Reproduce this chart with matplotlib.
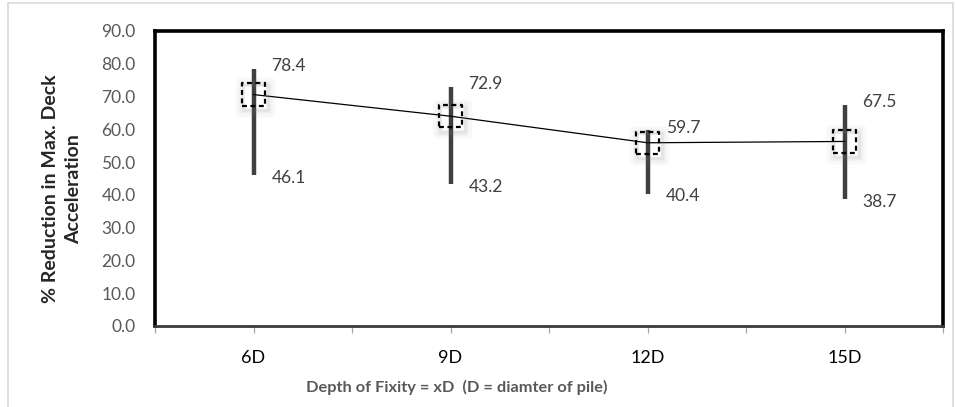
import matplotlib
matplotlib.use("Agg")
import matplotlib.pyplot as plt
import matplotlib.transforms as mtransforms
from matplotlib.patches import Rectangle

plt.rcParams['font.family'] = ['Lato', 'DejaVu Sans']

# depth of fixity cases and reduction in max. deck acceleration (%)
depths = ['6D', '9D', '12D', '15D']
high = [78.4, 72.9, 59.7, 67.5]
low = [46.1, 43.2, 40.4, 38.7]
mean = [70.6, 64.0, 55.9, 56.3]

pos = [1, 3, 5, 7]

fig = plt.figure(figsize=(9.55, 4.07), dpi=100)
ax = fig.add_axes([155 / 955, 1 - 326 / 407, 788 / 955, 295 / 407])

# chart border
fig.patches.append(Rectangle((8 / 955, -0.01), 945 / 955, 1 - 3 / 407 + 0.01,
                             transform=fig.transFigure, fill=False,
                             edgecolor='#d9d9d9', linewidth=1.2))

# high-low bars
ax.vlines(pos, low, high, colors='#404040', linewidth=3.2, zorder=2)

# mean line
ax.plot(pos, mean, color='black', linewidth=0.9, zorder=3)

# dashed square markers with a soft shadow
shadow = mtransforms.offset_copy(ax.transData, fig=fig, x=2, y=-3, units='dots')
for k, a in [(6, 0.05), (4, 0.07), (2, 0.09)]:
    ax.scatter(pos, mean, marker='s', s=240 + k * 40, facecolors='none',
               edgecolors='#7f7f7f', linewidths=k, alpha=a,
               transform=shadow, zorder=3)
ax.scatter(pos, mean, marker='s', s=260, facecolors='none', edgecolors='black',
           linewidths=1.6, linestyles=(0, (2.2, 1.6)), zorder=4)

# value labels
for x, h, l in zip(pos, high, low):
    ax.annotate(f'{h:.1f}', (x, h), xytext=(13, 2), textcoords='offset points',
                ha='left', va='center', fontsize=12.5, color='#404040')
    ax.annotate(f'{l:.1f}', (x, l), xytext=(13, -2), textcoords='offset points',
                ha='left', va='center', fontsize=12.5, color='#404040')

ax.set_xlim(0, 8)
ax.set_ylim(0, 90)
ax.set_yticks(range(0, 91, 10))
ax.set_yticklabels([f'{v:.1f}' for v in range(0, 91, 10)])
ax.tick_params(axis='y', length=0, pad=14, labelsize=12.5, labelcolor='#595959')

ticks = list(range(9))
labels = ['' for _ in ticks]
for p, d in zip(pos, depths):
    labels[p] = d
ax.set_xticks(ticks)
ax.set_xticklabels(labels)
ax.tick_params(axis='x', length=5, width=0.9, color='#a6a6a6', pad=12,
               labelsize=13, labelcolor='black')

for side in ['left', 'top', 'right']:
    ax.spines[side].set_linewidth(2.6)
    ax.spines[side].set_color('black')
ax.spines['bottom'].set_linewidth(2.0)
ax.spines['bottom'].set_color('#3a3a3a')

ax.set_ylabel('% Reduction in Max. Deck\nAcceleration', fontsize=14,
              fontweight='bold', color='#262626', linespacing=1.45)
ax.yaxis.set_label_coords(-0.092, 0.465)
ax.set_xlabel('Depth of Fixity = xD  (D = diamter of pile)', fontsize=11.8,
              fontweight='bold', color='#595959')
ax.xaxis.set_label_coords(0.383, -0.182)

fig.savefig('out.png', dpi=100)
